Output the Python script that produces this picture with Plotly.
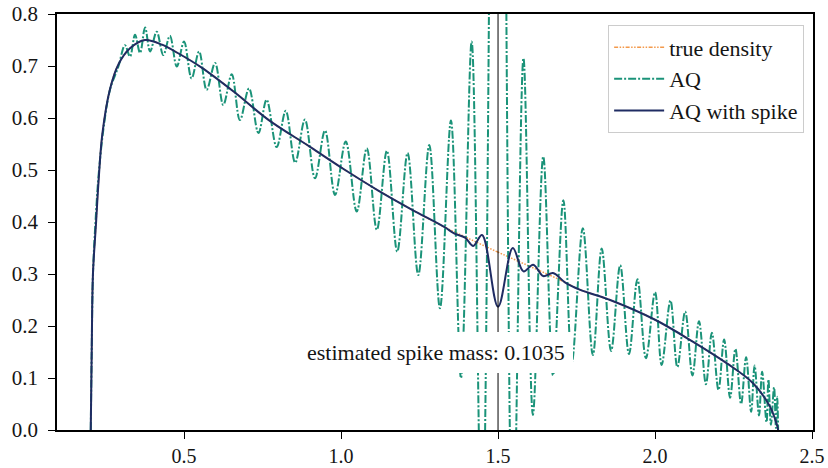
import plotly.graph_objects as go

# ---- data ----
x_true = [0.203, 0.206, 0.210, 0.220, 0.228, 0.240, 0.264, 0.291, 0.328, 0.376, 0.430, 0.480,
          0.556, 0.660, 0.770, 0.900, 1.013, 1.120, 1.225, 1.330, 1.400, 1.500, 1.600, 1.700,
          1.760, 1.857, 2.000, 2.120, 2.229, 2.312, 2.366, 2.388, 2.392]
y_true = [0.0, 0.15, 0.30, 0.40, 0.48, 0.57, 0.655, 0.703, 0.734, 0.750, 0.741, 0.725,
          0.697, 0.650, 0.596, 0.545, 0.500, 0.460, 0.424, 0.390, 0.370, 0.342, 0.315, 0.288,
          0.270, 0.250, 0.212, 0.170, 0.128, 0.090, 0.045, 0.010, 0.0]

x_aq = [0.203, 0.206, 0.210, 0.220, 0.228, 0.243, 0.264, 0.291,
        0.312, 0.328, 0.344, 0.360, 0.376, 0.392, 0.413, 0.434, 0.455, 0.477, 0.500, 0.524,
        0.548, 0.572, 0.599, 0.625, 0.652, 0.678, 0.707, 0.737, 0.763, 0.795, 0.824, 0.854,
        0.885, 0.917, 0.949, 0.981, 1.015, 1.050, 1.082, 1.114, 1.146, 1.179, 1.212, 1.246,
        1.281, 1.315, 1.350, 1.382, 1.416, 1.449, 1.500, 1.547, 1.581, 1.611, 1.644, 1.675,
        1.708, 1.735, 1.770, 1.802, 1.830, 1.860, 1.889, 1.917, 1.944, 1.971, 2.000, 2.021,
        2.049, 2.071, 2.096, 2.119, 2.140, 2.162, 2.181, 2.202, 2.220, 2.239, 2.256, 2.274,
        2.290, 2.306, 2.317, 2.331, 2.341, 2.355, 2.361, 2.369, 2.379, 2.385, 2.389, 2.392]
y_aq = [0.0, 0.15, 0.30, 0.42, 0.49, 0.577, 0.654, 0.699,
        0.740, 0.718, 0.760, 0.725, 0.774, 0.728, 0.766, 0.721, 0.758, 0.699, 0.747, 0.676,
        0.728, 0.654, 0.706, 0.625, 0.684, 0.596, 0.657, 0.571, 0.635, 0.544, 0.614, 0.514,
        0.597, 0.484, 0.576, 0.452, 0.555, 0.420, 0.542, 0.385, 0.537, 0.343, 0.533, 0.298,
        0.548, 0.234, 0.595, 0.100, 0.747, -0.25, 2.5, -0.25, 0.715, 0.029, 0.526, 0.105,
        0.442, 0.130, 0.388, 0.144, 0.349, 0.152, 0.317, 0.146, 0.290, 0.138, 0.265, 0.125,
        0.249, 0.121, 0.228, 0.105, 0.209, 0.088, 0.187, 0.077, 0.174, 0.062, 0.156, 0.050,
        0.140, 0.035, 0.124, 0.028, 0.112, 0.015, 0.097, 0.010, 0.082, 0.004, 0.064, 0.0]

x_spike = [0.203, 0.206, 0.210, 0.220, 0.228, 0.240, 0.264, 0.291, 0.328, 0.376, 0.430, 0.480,
           0.556, 0.660, 0.770, 0.900, 1.013, 1.120, 1.225, 1.330, 1.360, 1.395, 1.421, 1.449,
           1.500, 1.547, 1.581, 1.612, 1.644, 1.675, 1.713, 1.760, 1.857, 2.000, 2.120, 2.229,
           2.312, 2.366, 2.388, 2.392]
y_spike = [0.0, 0.15, 0.30, 0.40, 0.48, 0.57, 0.655, 0.703, 0.734, 0.750, 0.741, 0.725,
           0.697, 0.650, 0.596, 0.545, 0.500, 0.460, 0.424, 0.390, 0.378, 0.370, 0.354, 0.375,
           0.237, 0.350, 0.305, 0.318, 0.296, 0.302, 0.284, 0.270, 0.250, 0.212, 0.170, 0.128,
           0.090, 0.045, 0.010, 0.0]

spike_x = 1.5
spike_label = "estimated spike mass: 0.1035"
x_ticks = [0.5, 1.0, 1.5, 2.0, 2.5]
y_ticks = [0.0, 0.1, 0.2, 0.3, 0.4, 0.5, 0.6, 0.7, 0.8]

FONT = "'Liberation Serif', 'Times New Roman', 'DejaVu Serif', serif"
ORANGE = "#f39a4c"
GREEN = "#1b9379"
NAVY = "#1f2c63"
TXT = "#151515"

fig = go.Figure()
fig.add_trace(go.Scatter(x=x_true, y=y_true, mode="lines", name="true density",
                         legendgroup="a",
                         line=dict(color=ORANGE, width=1.5, shape="spline",
                                   dash="4px,1.5px,1.5px,1.5px,1.5px,1.5px")))
fig.add_trace(go.Scatter(x=x_aq, y=y_aq, mode="lines", name="AQ", legendgroup="b",
                         line=dict(color=GREEN, width=2, shape="spline",
                                   dash="8px,2px,2px,2px")))
fig.add_trace(go.Scatter(x=x_spike, y=y_spike, mode="lines", name="AQ with spike",
                         legendgroup="c",
                         line=dict(color=NAVY, width=2, shape="spline")))

fig.add_shape(type="line", x0=spike_x, x1=spike_x, y0=0, y1=1, xref="x", yref="paper",
              line=dict(color="black", width=1))

fig.add_annotation(x=1.302, y=0.15, xref="x", yref="y", text=spike_label,
                   showarrow=False, font=dict(family=FONT, size=22, color=TXT),
                   bgcolor="white", borderpad=8, borderwidth=0)

axis_common = dict(showline=True, linecolor="black", linewidth=1.5, mirror=True,
                   ticks="outside", ticklen=7, tickwidth=1.3, tickcolor="black",
                   showgrid=False, zeroline=False, automargin=False)

fig.update_xaxes(range=[0.0955, 2.503], tickvals=x_ticks, ticklabelstandoff=0,
                 tickfont=dict(family=FONT, size=20, color=TXT),
                 ticktext=[f"{v:.1f}" for v in x_ticks], **axis_common)
fig.update_yaxes(range=[0, 0.8], tickvals=y_ticks, ticklabelstandoff=6,
                 tickfont=dict(family=FONT, size=21, color=TXT),
                 ticktext=[f"{v:.1f}" for v in y_ticks], **axis_common)

fig.update_layout(
    width=828, height=468,
    margin=dict(l=57, r=15, t=14, b=38),
    plot_bgcolor="white", paper_bgcolor="white",
    font=dict(family=FONT, size=21, color=TXT),
    showlegend=True,
    legend=dict(x=0.988, y=0.973, xanchor="right", yanchor="top",
                bgcolor="white", bordercolor="#cccccc", borderwidth=1.2,
                font=dict(family=FONT, size=22, color=TXT),
                itemwidth=50, tracegroupgap=0),
)

fig.write_html("out.html")
